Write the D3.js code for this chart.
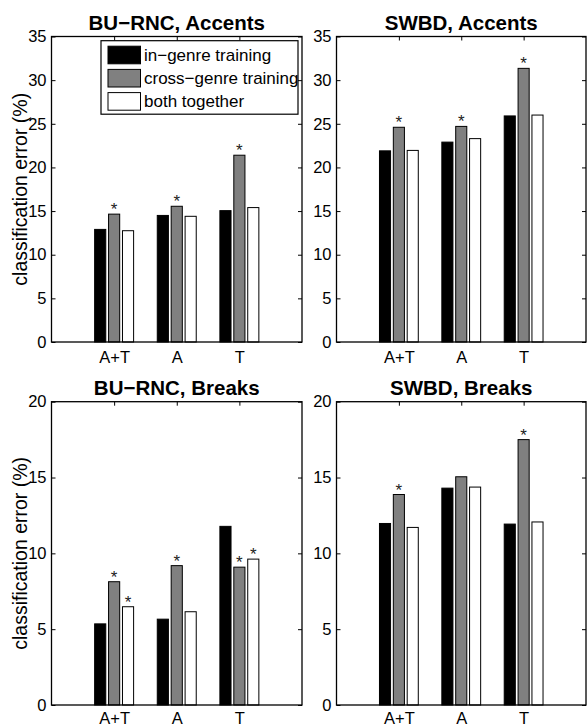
<!DOCTYPE html>
<html>
<head>
<meta charset="utf-8">
<script src="https://cdn.jsdelivr.net/npm/d3@7"></script>
<style>
  body { margin: 0; background: #fff; }
  svg { display: block; font-family: "Liberation Sans", Arial, Helvetica, sans-serif; }
</style>
</head>
<body>
<div id="chart"></div>
<script>
// Categories and series
const categories = ["A+T", "A", "T"];
const seriesNames = ["in\u2212genre training", "cross\u2212genre training", "both together"];
const seriesFill = ["#000000", "#808080", "#ffffff"];

const accentTicks = [0, 5, 10, 15, 20, 25, 30, 35];
const breakTicks = [0, 5, 10, 15, 20];

// BU-RNC, Accents
const buAccentsIn = [12.9, 14.5, 15.05];
const buAccentsCross = [14.65, 15.55, 21.4];
const buAccentsBoth = [12.75, 14.4, 15.4];
const buAccentsStars = [[0, 1], [1, 1], [2, 1]]; // [category, series]

// SWBD, Accents
const swbdAccentsIn = [21.9, 22.9, 25.9];
const swbdAccentsCross = [24.6, 24.7, 31.35];
const swbdAccentsBoth = [21.95, 23.3, 26.0];
const swbdAccentsStars = [[0, 1], [1, 1], [2, 1]];

// BU-RNC, Breaks
const buBreaksIn = [5.35, 5.66, 11.78];
const buBreaksCross = [8.13, 9.19, 9.09];
const buBreaksBoth = [6.48, 6.15, 9.62];
const buBreaksStars = [[0, 1], [0, 2], [1, 1], [2, 1], [2, 2]];

// SWBD, Breaks
const swbdBreaksIn = [11.97, 14.3, 11.93];
const swbdBreaksCross = [13.88, 15.05, 17.5];
const swbdBreaksBoth = [11.71, 14.37, 12.07];
const swbdBreaksStars = [[0, 1], [2, 1]];

const width = 587, height = 727;

const panels = [
  {title: "BU\u2212RNC, Accents", series: [buAccentsIn, buAccentsCross, buAccentsBoth], stars: buAccentsStars,
   ticks: accentTicks, yMax: 35, left: 51.5, right: 302, top: 36.5, bottom: 342, labelPad: 9, ylabel: true, legend: true},
  {title: "SWBD, Accents", series: [swbdAccentsIn, swbdAccentsCross, swbdAccentsBoth], stars: swbdAccentsStars,
   ticks: accentTicks, yMax: 35, left: 336.5, right: 586, top: 36.5, bottom: 342, labelPad: 9, ylabel: false, legend: false},
  {title: "BU\u2212RNC, Breaks", series: [buBreaksIn, buBreaksCross, buBreaksBoth], stars: buBreaksStars,
   ticks: breakTicks, yMax: 20, left: 51.5, right: 302, top: 401.7, bottom: 705, labelPad: 7.5, ylabel: true, legend: false},
  {title: "SWBD, Breaks", series: [swbdBreaksIn, swbdBreaksCross, swbdBreaksBoth], stars: swbdBreaksStars,
   ticks: breakTicks, yMax: 20, left: 336.5, right: 586, top: 401.7, bottom: 705, labelPad: 7.5, ylabel: false, legend: false},
];

function styleAxis(sel) {
  sel.attr("font-size", 16.5).attr("font-family", null);
  sel.select(".domain").remove();
  sel.selectAll("line").attr("stroke", "#000").attr("stroke-width", 1);
  sel.selectAll("text").attr("fill", "#000");
}

function drawPanel(svg, p) {
  // x: categories sit at 1, 2, 3 with limits [0, 4], like the original plot
  const x = d3.scaleLinear().domain([0, 4]).range([p.left, p.right]);
  const y = d3.scaleLinear().domain([0, p.yMax]).range([p.bottom, p.top]);

  const groupWidth = x(2 / 3) - x(0);
  const xSub = d3.scaleBand()
    .domain(d3.range(seriesNames.length))
    .range([-groupWidth / 2, groupWidth / 2])
    .paddingInner(0.2)
    .paddingOuter(0.1);

  const g = svg.append("g");

  // Axes (ticks point inward)
  g.append("g")
    .attr("transform", `translate(${p.left},0)`)
    .call(d3.axisLeft(y).tickValues(p.ticks).tickSizeInner(-4).tickSizeOuter(0).tickPadding(5))
    .call(styleAxis);
  g.append("g")
    .attr("transform", `translate(${p.right},0)`)
    .call(d3.axisRight(y).tickValues(p.ticks).tickSizeInner(-4).tickSizeOuter(0).tickFormat(""))
    .call(styleAxis);
  g.append("g")
    .attr("transform", `translate(0,${p.top})`)
    .call(d3.axisTop(x).tickValues([1, 2, 3]).tickSizeInner(-4).tickSizeOuter(0).tickFormat(""))
    .call(styleAxis);
  g.append("g")
    .attr("transform", `translate(0,${p.bottom})`)
    .call(d3.axisBottom(x).tickValues([1, 2, 3]).tickSizeInner(-4).tickSizeOuter(0).tickPadding(p.labelPad)
      .tickFormat(d => categories[d - 1]))
    .call(styleAxis);

  // Bars
  const rows = categories.flatMap((c, i) => p.series.map((s, j) => ({cat: i, ser: j, value: s[i]})));
  g.selectAll("rect.bar")
    .data(rows)
    .join("rect")
    .attr("class", "bar")
    .attr("x", d => x(d.cat + 1) + xSub(d.ser))
    .attr("width", xSub.bandwidth())
    .attr("y", d => y(d.value))
    .attr("height", d => y(0) - y(d.value))
    .attr("fill", d => seriesFill[d.ser])
    .attr("stroke", "#000")
    .attr("stroke-width", 1);

  // Significance stars
  g.selectAll("text.star")
    .data(p.stars)
    .join("text")
    .attr("class", "star")
    .attr("x", d => x(d[0] + 1) + xSub(d[1]) + xSub.bandwidth() / 2)
    .attr("y", d => y(p.series[d[1]][d[0]]) + 1)
    .attr("text-anchor", "middle")
    .attr("font-size", 17)
    .attr("fill", "#222")
    .text("*");

  // Box
  g.append("rect")
    .attr("x", p.left)
    .attr("y", p.top)
    .attr("width", p.right - p.left)
    .attr("height", p.bottom - p.top)
    .attr("fill", "none")
    .attr("stroke", "#000")
    .attr("stroke-width", 1.3);

  // Title
  g.append("text")
    .attr("x", (p.left + p.right) / 2)
    .attr("y", p.top - 7)
    .attr("text-anchor", "middle")
    .attr("font-size", 20.5)
    .attr("font-weight", "bold")
    .text(p.title);

  if (p.ylabel) {
    g.append("text")
      .attr("transform", `translate(27,${(p.top + p.bottom) / 2}) rotate(-90)`)
      .attr("text-anchor", "middle")
      .attr("font-size", 19.5)
      .text("classification error (%)");
  }

  if (p.legend) drawLegend(g, p);
}

function drawLegend(g, p) {
  const lx = p.left + 49.5, ly = p.top + 4.2;
  const leg = g.append("g").attr("transform", `translate(${lx},${ly})`);
  leg.append("rect")
    .attr("width", 197)
    .attr("height", 73.5)
    .attr("fill", "#fff")
    .attr("stroke", "#000")
    .attr("stroke-width", 1.2);

  const item = leg.selectAll("g.item")
    .data(seriesNames)
    .join("g")
    .attr("class", "item")
    .attr("transform", (d, i) => `translate(0,${14.3 + i * 23.2})`);

  item.append("rect")
    .attr("x", 7)
    .attr("y", -8.8)
    .attr("width", 32.5)
    .attr("height", 17.6)
    .attr("fill", (d, i) => seriesFill[i])
    .attr("stroke", "#000")
    .attr("stroke-width", 1);

  item.append("text")
    .attr("x", 43)
    .attr("y", 6)
    .attr("font-size", 17)
    .text(d => d);
}

const svg = d3.select("#chart")
  .append("svg")
  .attr("width", width)
  .attr("height", height);

svg.append("rect").attr("width", width).attr("height", height).attr("fill", "#fff");

panels.forEach(p => drawPanel(svg, p));
</script>
</body>
</html>
